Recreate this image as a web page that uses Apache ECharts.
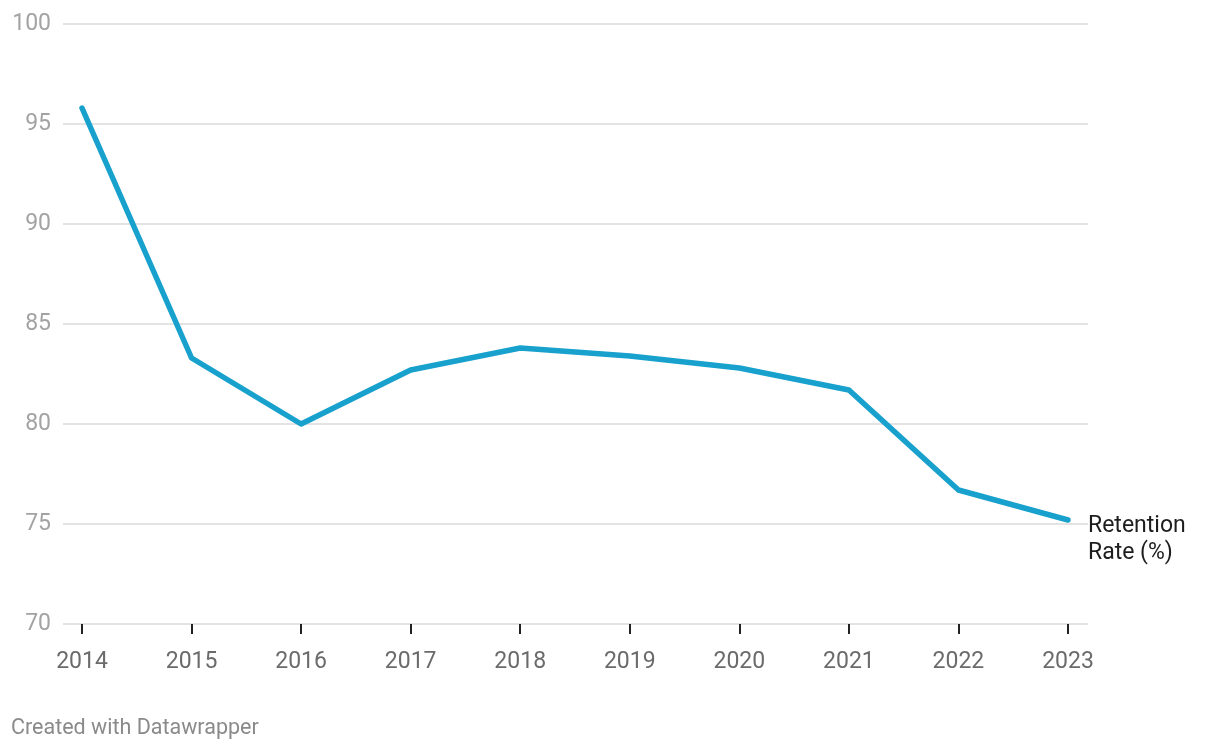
<!DOCTYPE html>
<html>
<head>
<meta charset="utf-8">
<script src="https://cdn.jsdelivr.net/npm/echarts@6/dist/echarts.min.js"></script>
<style>html,body{margin:0;padding:0;background:#fff}#c{width:1220px;height:750px}</style>
</head>
<body>
<div id="c"></div>
<script>
var years = [2014, 2015, 2016, 2017, 2018, 2019, 2020, 2021, 2022, 2023];
var retention = [95.8, 83.3, 80.0, 82.7, 83.8, 83.4, 82.8, 81.7, 76.7, 75.2];
var seriesName = 'Retention Rate (%)';
var footer = 'Created with Datawrapper';

var chart = echarts.init(document.getElementById('c'), null, {renderer: 'canvas'});
var font = 'Roboto, "Noto Sans", sans-serif';
chart.setOption({
  backgroundColor: '#fff',
  animation: false,
  textStyle: {fontFamily: font},
  title: {
    text: footer, left: 6, top: 713,
    textStyle: {fontFamily: font, fontSize: 21.5, fontWeight: 'normal', color: '#8a8a8a'}
  },
  grid: [
    {left: 63, right: 132, top: 24, bottom: 126},
    {left: 82, right: 152, top: 24, bottom: 126}
  ],
  xAxis: [
    {gridIndex: 0, type: 'value', min: 0, max: 1, show: false},
    {gridIndex: 1, type: 'value', min: 2014, max: 2023, interval: 1,
     axisLine: {show: false},
     axisTick: {show: true, length: 10, lineStyle: {color: '#222', width: 2}},
     splitLine: {show: false},
     axisLabel: {color: '#6b6b6b', fontSize: 23, margin: 27, fontFamily: font,
       formatter: function (v) { return String(v); }}
    }
  ],
  yAxis: [
    {gridIndex: 0, type: 'value', min: 70, max: 100, interval: 5,
     axisLine: {show: false}, axisTick: {show: false},
     splitLine: {show: true, lineStyle: {color: '#e3e3e3', width: 2}},
     axisLabel: {color: '#a3a3a3', fontSize: 23, margin: 12, fontFamily: font}
    },
    {gridIndex: 1, type: 'value', min: 70, max: 100, interval: 5, show: false}
  ],
  series: [{
    name: seriesName,
    type: 'line',
    xAxisIndex: 1, yAxisIndex: 1,
    data: years.map(function (y, i) { return [y, retention[i]]; }),
    showSymbol: false,
    symbol: 'none',
    lineStyle: {color: '#18a1cd', width: 5.5, cap: 'round', join: 'round'},
    endLabel: {
      show: true,
      formatter: 'Retention\nRate (%)',
      color: '#1d1d1d', fontSize: 23, lineHeight: 27, fontFamily: font,
      distance: 20, offset: [0, 20], align: 'left'
    }
  }]
});
</script>
</body>
</html>
